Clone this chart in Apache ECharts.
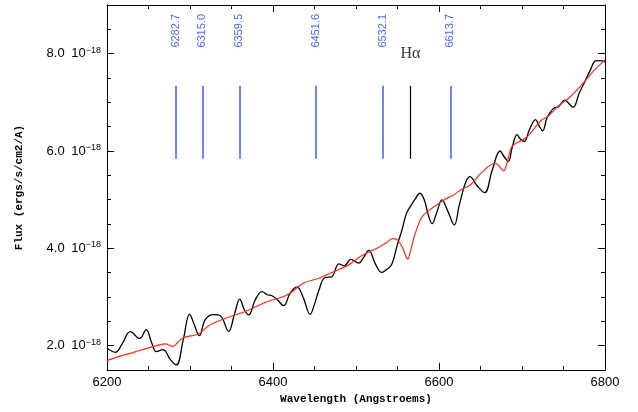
<!DOCTYPE html>
<html>
<head>
<meta charset="utf-8">
<script src="https://cdn.jsdelivr.net/npm/echarts@6/dist/echarts.min.js"></script>
<style>
  html, body { margin: 0; padding: 0; background: #fff; }
  #chart { width: 638px; height: 412px; }
</style>
</head>
<body>
<div id="chart"></div>
<script>
// observed spectrum (black), wavelength in Angstroem, flux in 1e-18 ergs/s/cm2/A
const obsWave = [6200, 6210, 6218.4, 6228.1, 6239.3, 6247.3, 6253.4, 6259.4, 6267.5, 6276.3,
  6283.5, 6291.9, 6299.5, 6305.2, 6311.2, 6318.4, 6328.1, 6336.5, 6346.5, 6353.4,
  6360, 6365.4, 6370.6, 6378.7, 6386.7, 6393.1, 6398.8, 6405.2, 6412.8, 6420.8,
  6428.9, 6436.5, 6444.7, 6449.8, 6454.9, 6462.7, 6470.6, 6479.3, 6485.9, 6493.7,
  6503.4, 6508.8, 6515.4, 6523.3, 6531.1, 6536.5, 6543.1, 6549.8, 6555.4, 6560.6,
  6565.4, 6571.4, 6576.9, 6582.3, 6587.1, 6591.7, 6596.7, 6603.6, 6610, 6618.4,
  6624.5, 6631.7, 6637.1, 6646.1, 6654.9, 6664.2, 6673.6, 6678.7, 6683.5, 6688.3,
  6694.1, 6698, 6702.8, 6708.8, 6716.3, 6720.8, 6724.8, 6730.5, 6738, 6744,
  6751.6, 6757, 6761.6, 6769, 6776.3, 6782.3, 6788.6, 6793.1, 6798.3, 6800];
const obsFlux = [1.945, 1.863, 2.04, 2.287, 2.15, 2.328, 2.08, 1.877, 1.918, 1.713,
  1.604, 2.123, 2.65, 2.43, 2.205, 2.533, 2.636, 2.615, 2.293, 2.636,
  2.958, 2.738, 2.632, 2.944, 3.112, 3.046, 3.026, 2.944, 2.821, 3.087,
  3.21, 2.985, 2.644, 2.841, 3.118, 3.401, 3.415, 3.682, 3.641, 3.774,
  3.696, 3.805, 3.957, 3.682, 3.504, 3.559, 3.672, 4.072, 4.379, 4.708,
  4.857, 5.015, 5.132, 4.995, 4.687, 4.507, 4.708, 4.995, 4.79, 4.482,
  4.892, 5.337, 5.473, 5.282, 5.145, 5.61, 6.0, 5.877, 5.785, 6.082,
  6.336, 6.246, 6.195, 6.431, 6.644, 6.513, 6.414, 6.697, 6.876, 6.909,
  7.046, 6.964, 6.897, 7.19, 7.446, 7.662, 7.85, 7.856, 7.846, 7.83];

// model spectrum (red)
const modelWave = [6200, 6216, 6232, 6256.1, 6270.2, 6279.5, 6285.9, 6293.1, 6310.4, 6322.4,
  6340.5, 6368.7, 6392.8, 6416.9, 6436.9, 6454.6, 6470.6, 6490.7, 6506.7, 6526.9,
  6536.5, 6543.7, 6549.8, 6555.4, 6559.4, 6562.2, 6565.4, 6569.6, 6575.1, 6579.9,
  6591.6, 6599.2, 6607.2, 6617.6, 6627.2, 6637.7, 6651.3, 6667.5, 6671.4, 6675,
  6677.8, 6682.3, 6687.5, 6695.5, 6705.2, 6723.6, 6730.8, 6743.7, 6758.2, 6776.3,
  6787.1, 6800];
const modelFlux = [1.692, 1.785, 1.863, 1.986, 2.035, 1.986, 2.082, 2.17, 2.24, 2.41,
  2.548, 2.718, 2.903, 3.04, 3.286, 3.381, 3.504, 3.655, 3.846, 4.016,
  4.113, 4.201, 4.174, 4.037, 3.867, 3.778, 3.928, 4.209, 4.482, 4.656,
  4.825, 4.913, 5.009, 5.097, 5.214, 5.303, 5.555, 5.748, 5.713, 5.631,
  5.59, 5.774, 6.088, 6.185, 6.277, 6.636, 6.704, 6.923, 7.114, 7.446,
  7.662, 7.867];

// marked lines
const lineWaves = [6282.7, 6315.0, 6359.5, 6451.6, 6532.1, 6613.7];
const lineLabels = ['6282.7', '6315.0', '6359.5', '6451.6', '6532.1', '6613.7'];
const halphaWave = 6565.5;
const halphaLabel = 'H\u03b1';
const markLow = 5.84;
const markHigh = 7.34;
const labelLevel = 8.47;

// y ticks
const yMajor = [2, 4, 6, 8];
const yMinor = [2.5, 3, 3.5, 4.5, 5, 5.5, 6.5, 7, 7.5, 8.5];

const chart = echarts.init(document.getElementById('chart'));

const zip = (a, b) => a.map((v, i) => [v, b[i]]);

const black = '#000';
const blue = '#3d5eff';

function yAxisDef(position, ticks, len, labels) {
  return {
    type: 'value', min: 1.5, max: 9, position: position,
    axisLine: { show: true, lineStyle: { color: black, width: 1 } },
    axisTick: { show: true, inside: true, length: len, customValues: ticks, lineStyle: { color: black } },
    axisLabel: labels ? {
      show: true, customValues: yMajor, margin: 6,
      formatter: v => '{a|' + v.toFixed(1) + '}  {b|10}{c|\u221218}',
      rich: {
        a: { fontFamily: 'Liberation Sans', fontSize: 13, color: black, lineHeight: 16 },
        b: { fontFamily: 'Liberation Sans', fontSize: 13, color: black, lineHeight: 16 },
        c: { fontFamily: 'Liberation Sans', fontSize: 9, color: black, verticalAlign: 'top', lineHeight: 16 }
      }
    } : { show: false },
    splitLine: { show: false }
  };
}

function xAxisDef(position, labels) {
  return {
    type: 'value', min: 6200, max: 6800, interval: 200, position: position,
    axisLine: { show: true, lineStyle: { color: black, width: 1 } },
    axisTick: { show: true, inside: true, length: 7, lineStyle: { color: black } },
    minorTick: { show: true, splitNumber: 4, length: 4, lineStyle: { color: black } },
    axisLabel: labels ? {
      color: black, fontFamily: 'Liberation Sans', fontSize: 13, margin: 6,
      formatter: v => String(v)
    } : { show: false },
    splitLine: { show: false },
    name: labels ? 'Wavelength (Angstroems)' : '',
    nameLocation: 'middle', nameGap: 24,
    nameTextStyle: { fontFamily: 'Liberation Mono', fontWeight: 'bold', fontSize: 11, color: black }
  };
}

const yAxes = [
  yAxisDef('left', yMajor, 7, true),
  yAxisDef('left', yMinor, 4, false),
  yAxisDef('right', yMajor, 7, false),
  yAxisDef('right', yMinor, 4, false)
];
yAxes[0].name = 'Flux (ergs/s/cm2/A)';
yAxes[0].nameLocation = 'middle';
yAxes[0].nameGap = 82;
yAxes[0].nameTextStyle = { fontFamily: 'Liberation Mono', fontWeight: 'bold', fontSize: 11, color: black };

const option = {
  animation: false,
  backgroundColor: '#fff',
  grid: { left: 107, right: 33, top: 5, bottom: 42 },
  xAxis: [xAxisDef('bottom', true), xAxisDef('top', false)],
  yAxis: yAxes,
  series: [
    {
      type: 'line', data: zip(modelWave, modelFlux), smooth: 0.35, symbol: 'none',
      lineStyle: { color: '#ff2a1a', width: 1.2 }, silent: true, z: 3
    },
    {
      type: 'line', data: zip(obsWave, obsFlux), smooth: 0.4, symbol: 'none',
      lineStyle: { color: black, width: 1.3 }, silent: true, z: 2,
      markLine: {
        silent: true, symbol: 'none', animation: false,
        label: { show: false },
        data: lineWaves.map(w => [
          { coord: [w, markLow], lineStyle: { color: blue, width: 1.5, type: 'solid' } },
          { coord: [w, markHigh] }
        ]).concat([[
          { coord: [halphaWave, markLow], lineStyle: { color: black, width: 1.2, type: 'solid' } },
          { coord: [halphaWave, markHigh] }
        ]])
      }
    },
    {
      type: 'scatter', symbolSize: 0, silent: true,
      data: lineWaves.map((w, i) => ({ value: [w, labelLevel], name: lineLabels[i] })),
      label: {
        show: true, position: 'inside', rotate: 90, formatter: p => p.name,
        fontFamily: 'Liberation Sans', fontSize: 11, color: '#1f3dff'
      }
    },
    {
      type: 'scatter', symbolSize: 0, silent: true,
      data: [{ value: [halphaWave, 8.0], name: halphaLabel }],
      label: {
        show: true, position: 'inside', formatter: p => p.name,
        fontFamily: 'Liberation Serif', fontSize: 16, color: black
      }
    }
  ]
};

chart.setOption(option);
</script>
</body>
</html>
